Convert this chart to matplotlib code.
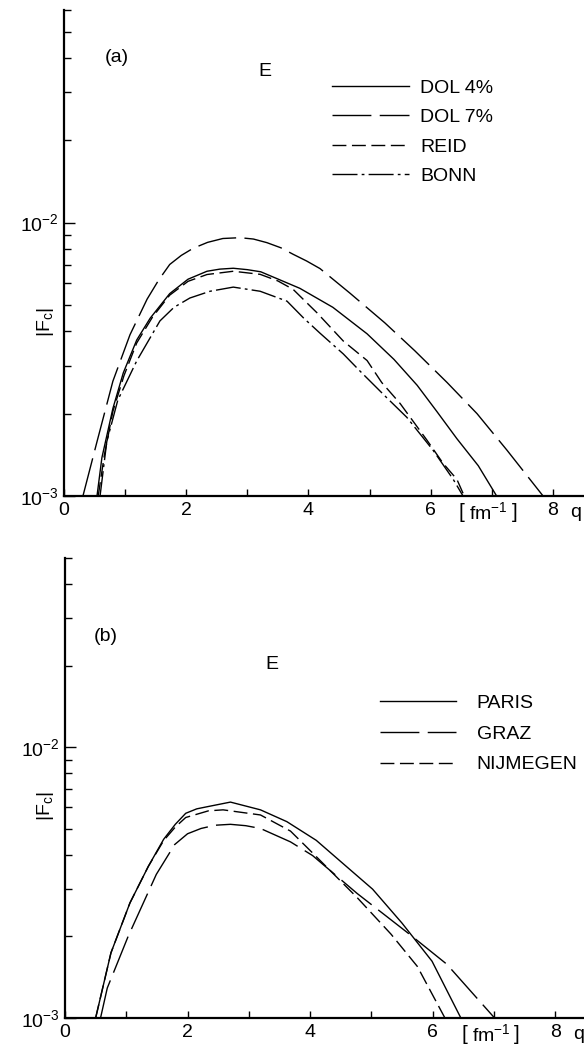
import matplotlib
matplotlib.use("Agg")
import matplotlib.pyplot as plt
from matplotlib.ticker import FixedLocator, NullFormatter, LogFormatterSciNotation

plt.rcParams['font.family'] = ['Liberation Sans', 'DejaVu Sans']
plt.rcParams['mathtext.fontset'] = 'custom'
plt.rcParams['mathtext.rm'] = 'Liberation Sans'
plt.rcParams['mathtext.it'] = 'Liberation Sans'
plt.rcParams['mathtext.default'] = 'regular'
plt.rcParams['lines.scale_dashes'] = False

# panel (a): |F_c| vs q
q_dol4 = [0.54, 0.62, 0.80, 0.97, 1.19, 1.41, 1.73, 2.03, 2.34, 2.55, 2.77, 3.0, 3.22, 3.5, 3.86,
          4.40, 4.96, 5.40, 5.78, 6.10, 6.43, 6.78, 7.08]
f_dol4 = [1.00e-3, 1.38e-3, 2.09e-3, 2.82e-3, 3.72e-3, 4.47e-3, 5.50e-3, 6.21e-3, 6.64e-3, 6.76e-3,
          6.81e-3, 6.73e-3, 6.61e-3, 6.22e-3, 5.75e-3, 4.90e-3, 3.92e-3, 3.16e-3, 2.54e-3, 2.04e-3,
          1.62e-3, 1.29e-3, 1.00e-3]

q_dol7 = [0.31, 0.54, 0.80, 1.08, 1.36, 1.55, 1.73, 1.92, 2.11, 2.35, 2.60, 2.88, 3.1, 3.32, 3.55,
          3.75, 3.97, 4.19, 4.68, 5.25, 5.74, 6.27, 6.76, 7.25, 7.84]
f_dol7 = [1.00e-3, 1.58e-3, 2.63e-3, 3.89e-3, 5.25e-3, 6.17e-3, 7.03e-3, 7.59e-3, 8.05e-3, 8.47e-3,
          8.75e-3, 8.81e-3, 8.71e-3, 8.45e-3, 8.09e-3, 7.66e-3, 7.24e-3, 6.79e-3, 5.52e-3, 4.30e-3,
          3.40e-3, 2.60e-3, 2.00e-3, 1.47e-3, 1.00e-3]

q_reid = [0.56, 0.66, 0.80, 0.98, 1.19, 1.45, 1.73, 2.03, 2.34, 2.77, 3.21, 3.5, 3.75, 4.14, 4.57,
          4.96, 5.20, 5.50, 5.94, 6.20, 6.43, 6.55]
f_reid = [1.00e-3, 1.41e-3, 2.04e-3, 2.75e-3, 3.63e-3, 4.52e-3, 5.43e-3, 6.10e-3, 6.46e-3, 6.64e-3,
          6.47e-3, 6.12e-3, 5.70e-3, 4.68e-3, 3.69e-3, 3.13e-3, 2.60e-3, 2.18e-3, 1.60e-3, 1.32e-3,
          1.15e-3, 1.00e-3]

q_bonn = [0.59, 0.70, 0.88, 1.19, 1.57, 1.8, 2.06, 2.39, 2.77, 3.21, 3.65, 3.92, 4.19, 4.57, 4.84,
          5.28, 5.61, 6.04, 6.37, 6.53]
f_bonn = [1.00e-3, 1.58e-3, 2.24e-3, 3.12e-3, 4.37e-3, 4.90e-3, 5.30e-3, 5.61e-3, 5.81e-3, 5.61e-3,
          5.16e-3, 4.48e-3, 3.94e-3, 3.31e-3, 2.87e-3, 2.29e-3, 1.94e-3, 1.47e-3, 1.15e-3, 1.00e-3]

# panel (b)
q_paris = [0.50, 0.75, 1.06, 1.36, 1.61, 1.8, 1.97, 2.15, 2.34, 2.70, 3.19, 3.62, 4.10, 4.59, 5.02,
           5.50, 5.99, 6.46]
f_paris = [1.00e-3, 1.74e-3, 2.66e-3, 3.63e-3, 4.57e-3, 5.19e-3, 5.70e-3, 5.92e-3, 6.04e-3, 6.27e-3,
           5.87e-3, 5.31e-3, 4.53e-3, 3.63e-3, 2.99e-3, 2.24e-3, 1.62e-3, 1.00e-3]

q_graz = [0.58, 0.69, 1.03, 1.49, 1.79, 2.0, 2.22, 2.45, 2.70, 2.95, 3.19, 3.68, 4.04, 4.77, 5.62,
          6.23, 7.01]
f_graz = [1.00e-3, 1.29e-3, 2.00e-3, 3.39e-3, 4.37e-3, 4.79e-3, 5.01e-3, 5.15e-3, 5.19e-3, 5.13e-3,
          5.01e-3, 4.47e-3, 3.98e-3, 2.88e-3, 2.04e-3, 1.58e-3, 1.00e-3]

q_nijm = [0.50, 0.75, 1.06, 1.36, 1.61, 1.8, 1.97, 2.34, 2.58, 3.19, 3.68, 4.04, 4.77, 5.32, 5.75,
          6.20]
f_nijm = [1.00e-3, 1.74e-3, 2.66e-3, 3.63e-3, 4.52e-3, 5.07e-3, 5.50e-3, 5.82e-3, 5.87e-3, 5.62e-3,
          4.90e-3, 4.07e-3, 2.78e-3, 2.04e-3, 1.55e-3, 1.00e-3]

x_major = [0, 2, 4, 6, 8]
x_minor = [1, 3, 5, 7]

solid = '-'
long_dash = (0, (28, 6))
short_dash = (0, (10, 4))
dash_dot = (0, (18, 3, 2, 3))

FS = 14

fig = plt.figure(figsize=(5.84, 10.49), dpi=100)
ax_a = fig.add_axes([0.1096, 0.5272, 0.8904, 0.4633])
ax_b = fig.add_axes([0.1113, 0.0296, 0.8887, 0.4385])


def style_axes(ax, ytop, xmax):
    ax.set_yscale('log')
    ax.set_ylim(1e-3, ytop)
    ax.set_xlim(0, xmax)
    for s in ['top', 'right']:
        ax.spines[s].set_visible(False)
    ax.spines['left'].set_linewidth(1.6)
    ax.spines['bottom'].set_linewidth(1.6)
    ax.xaxis.set_major_locator(FixedLocator(x_major))
    ax.xaxis.set_minor_locator(FixedLocator(x_minor))
    ax.yaxis.set_major_locator(FixedLocator([1e-3, 1e-2]))
    minors = [k * 1e-3 for k in range(2, 10)] + [k * 1e-2 for k in range(2, 10) if k * 1e-2 <= ytop * 1.001]
    if minors[-1] < ytop * 0.99:
        minors.append(ytop)
    ax.yaxis.set_minor_locator(FixedLocator(minors))
    ax.yaxis.set_major_formatter(LogFormatterSciNotation())
    ax.yaxis.set_minor_formatter(NullFormatter())
    ax.tick_params(axis='both', which='both', direction='in', width=1.0, labelsize=FS)
    ax.tick_params(axis='x', which='both', length=5, pad=4)
    ax.tick_params(axis='y', which='major', length=8, pad=4)
    ax.tick_params(axis='y', which='minor', length=5)
    # unit label "[fm^-1]" and axis name "q" sit in the tick-label row
    xt = ax.get_xaxis_transform()
    yrow = -16.5 / (ax.get_position().height * fig.get_figheight() * fig.dpi)
    ax.text(6.51, yrow, '[', transform=xt, ha='center', va='center', fontsize=15, fontweight='light')
    ax.text(6.95, yrow, r'fm$^{-1}$', transform=xt, ha='center', va='center', fontsize=FS)
    ax.text(7.38, yrow, ']', transform=xt, ha='center', va='center', fontsize=15, fontweight='light')
    ax.text(8.38, yrow, 'q', transform=xt, ha='center', va='center', fontsize=FS)


# ---- panel (a)
style_axes(ax_a, 6e-2, 8.51)
ax_a.plot(q_dol4, f_dol4, color='black', lw=1.0, ls=solid, label='DOL 4%')
ax_a.plot(q_dol7, f_dol7, color='black', lw=1.0, ls=long_dash, label='DOL 7%')
ax_a.plot(q_reid, f_reid, color='black', lw=1.0, ls=short_dash, label='REID')
ax_a.plot(q_bonn, f_bonn, color='black', lw=1.0, ls=dash_dot, label='BONN')
ax_a.text(0.102, 0.903, '(a)', transform=ax_a.transAxes, ha='center', va='center', fontsize=FS)
ax_a.text(0.387, 0.873, 'E', transform=ax_a.transAxes, ha='center', va='center', fontsize=FS)
ax_a.text(-0.036, 0.358, r'$|\mathrm{F_c}|$', transform=ax_a.transAxes, rotation=90,
          ha='center', va='center', fontsize=FS)
ax_a.legend(loc='upper left', bbox_to_anchor=(0.515, 0.858), frameon=False, fontsize=FS,
            handlelength=3.96, handletextpad=0.57, labelspacing=0.61, borderpad=0, borderaxespad=0)

# ---- panel (b)
style_axes(ax_b, 5e-2, 8.47)
ax_b.plot(q_paris, f_paris, color='black', lw=1.0, ls=solid, label='PARIS')
ax_b.plot(q_graz, f_graz, color='black', lw=1.0, ls=long_dash, label='GRAZ')
ax_b.plot(q_nijm, f_nijm, color='black', lw=1.0, ls=short_dash, label='NIJMEGEN')
ax_b.text(0.079, 0.829, '(b)', transform=ax_b.transAxes, ha='center', va='center', fontsize=FS)
ax_b.text(0.399, 0.768, 'E', transform=ax_b.transAxes, ha='center', va='center', fontsize=FS)
ax_b.text(-0.038, 0.461, r'$|\mathrm{F_c}|$', transform=ax_b.transAxes, rotation=90,
          ha='center', va='center', fontsize=FS)
ax_b.legend(loc='upper left', bbox_to_anchor=(0.607, 0.703), frameon=False, fontsize=FS,
            handlelength=3.9, handletextpad=1.08, labelspacing=0.67, borderpad=0, borderaxespad=0)

fig.savefig('out.png', dpi=100)
